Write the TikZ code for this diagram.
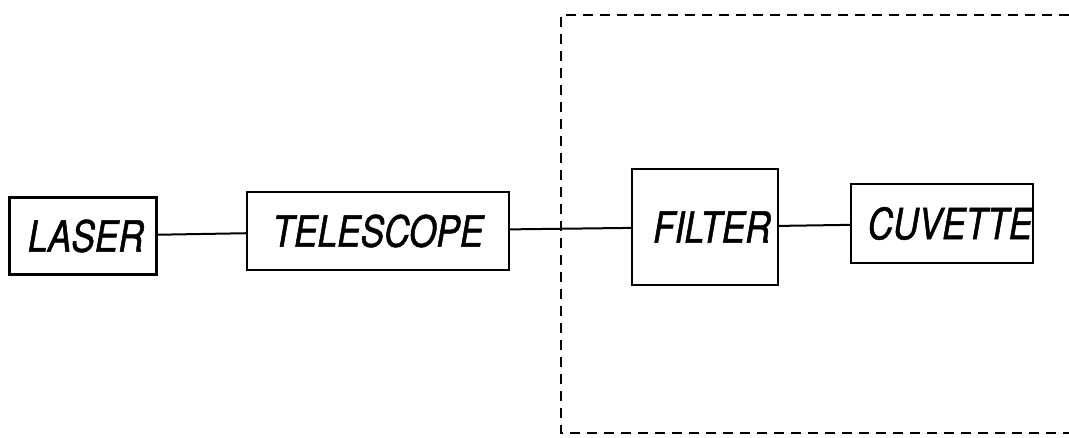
\documentclass[tikz,border=0pt]{standalone}
\usepackage{fontspec}
\setmainfont{TeX Gyre Heros}[FakeStretch=0.82, ItalicFeatures={FakeStretch=0.82, FakeBold=1.2}]
\usepackage{tikz}
\usetikzlibrary{positioning}

\begin{document}
\begin{tikzpicture}[x=0.5pt, y=-0.5pt, line width=1pt]
\tikzstyle{every node} = [rectangle, draw=black, line width=1.1pt, inner sep=0pt, font=\itshape\fontsize{21.5}{24}\selectfont]
\tikzset{frame/.style={dash pattern=on 5pt off 3.5pt, line width=1.3pt}}
\useasboundingbox (0,0) rectangle (1069,438);
\node (laser) [minimum width=73.5pt, minimum height=38.5pt] at (83,236) {\hspace*{3pt}LASER};
\node (tele) [minimum width=131pt, minimum height=39pt] at (378,231) {TELESCOPE};
\node (filter) [minimum width=73pt, minimum height=58pt] at (705,227) {\hspace*{7pt}FILTER};
\node (cuv) [minimum width=91pt, minimum height=39.5pt] at (942,223.5) {\hspace*{8pt}CUVETTE};
\path (laser) edge (tele)
(tele) edge (filter)
(filter) edge (cuv);
% dashed enclosure, open on the right
\draw[frame] (1069,15) -- (561,15) -- (561,433) -- (1069,433);
\end{tikzpicture}
\end{document}
